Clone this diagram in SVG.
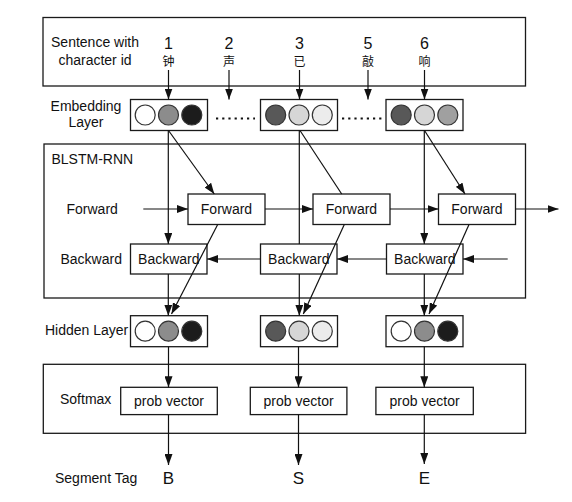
<svg xmlns="http://www.w3.org/2000/svg" width="572" height="502" viewBox="0 0 572 502">
<defs>
<marker id="ah" markerUnits="userSpaceOnUse" viewBox="0 0 11 8" refX="11" refY="4" markerWidth="11" markerHeight="8" orient="auto">
<path d="M0,0 L11,4 L0,8 z" fill="#111"/>
</marker>
<style>
text{font-family:"Liberation Sans",Arial,"Noto Sans CJK SC",sans-serif;fill:#111;font-size:14px}
.frame{fill:none;stroke:#1a1a1a;stroke-width:1.3}
.box{fill:#fff;stroke:#1a1a1a;stroke-width:1.3}
.mid{text-anchor:middle}
.num{font-size:16px;text-anchor:middle}
.cjk{font-family:"Noto Sans CJK SC","Liberation Sans",sans-serif;font-size:12px;text-anchor:middle}
.tag{font-size:17px;text-anchor:middle}
.c{stroke:#333;stroke-width:1.2}
.ln{fill:none;stroke:#111;stroke-width:1.2}
.arr{fill:none;stroke:#111;stroke-width:1.2;marker-end:url(#ah)}
.dots{fill:none;stroke:#111;stroke-width:2.2;stroke-dasharray:2.2 4}
</style>
</defs>

<g id="sentence">
<rect class="frame" x="43" y="17.5" width="482.5" height="68.5"/>
<text class="mid" x="95" y="47">Sentence with</text>
<text class="mid" x="95" y="65">character id</text>
<text class="num" x="168.5" y="49">1</text>
<text class="cjk" x="168.5" y="65.5">钟</text>
<text class="num" x="229" y="49">2</text>
<text class="cjk" x="229" y="65.5">声</text>
<text class="num" x="299.5" y="49">3</text>
<text class="cjk" x="299.5" y="65.5">已</text>
<text class="num" x="368" y="49">5</text>
<text class="cjk" x="368" y="65.5">敲</text>
<text class="num" x="424.5" y="49">6</text>
<text class="cjk" x="424.5" y="65.5">响</text>
</g>

<g id="embedding-label">
<text class="mid" x="86" y="111">Embedding</text>
<text class="mid" x="86" y="127">Layer</text>
</g>

<g id="emb1">
<rect class="box" x="130.5" y="99.5" width="77" height="31"/>
<circle class="c" cx="145.2" cy="115" r="10" fill="#ffffff"/>
<circle class="c" cx="168.5" cy="115" r="10" fill="#8c8c8c"/>
<circle class="c" cx="191.8" cy="115" r="10" fill="#1c1c1c"/>
</g>
<g id="emb2">
<rect class="box" x="260.5" y="99.5" width="77" height="31"/>
<circle class="c" cx="275.7" cy="115" r="10" fill="#585858"/>
<circle class="c" cx="299" cy="115" r="10" fill="#d6d6d6"/>
<circle class="c" cx="322.3" cy="115" r="10" fill="#ececec"/>
</g>
<g id="emb3">
<rect class="box" x="386" y="99.5" width="77" height="31"/>
<circle class="c" cx="401.2" cy="115" r="10" fill="#585858"/>
<circle class="c" cx="424.5" cy="115" r="10" fill="#d6d6d6"/>
<circle class="c" cx="447.8" cy="115" r="10" fill="#a0a0a0"/>
</g>

<g id="blstm">
<rect class="frame" x="44" y="144" width="481.5" height="154"/>
<text x="51.5" y="164">BLSTM-RNN</text>
<text x="66.5" y="214">Forward</text>
<text x="60.5" y="264">Backward</text>
</g>

<g id="fwd1"><rect class="box" x="188" y="194" width="77" height="30.5"/><text class="mid" x="226.5" y="214.3">Forward</text></g>
<g id="fwd2"><rect class="box" x="313" y="194" width="77" height="30.5"/><text class="mid" x="351.5" y="214.3">Forward</text></g>
<g id="fwd3"><rect class="box" x="438.5" y="194" width="77" height="30.5"/><text class="mid" x="477" y="214.3">Forward</text></g>

<g id="bwd1"><rect class="box" x="130.5" y="244" width="76.5" height="30"/><text class="mid" x="168.8" y="263.5">Backward</text></g>
<g id="bwd2"><rect class="box" x="260.5" y="244" width="76.5" height="30"/><text class="mid" x="298.8" y="263.5">Backward</text></g>
<g id="bwd3"><rect class="box" x="386.5" y="244" width="76.5" height="30"/><text class="mid" x="424.8" y="263.5">Backward</text></g>

<g id="hidden-label"><text x="45" y="334.5">Hidden Layer</text></g>
<g id="hid1">
<rect class="box" x="130.5" y="315.7" width="77" height="31"/>
<circle class="c" cx="145.2" cy="331.2" r="10" fill="#ffffff"/>
<circle class="c" cx="168.5" cy="331.2" r="10" fill="#8c8c8c"/>
<circle class="c" cx="191.8" cy="331.2" r="10" fill="#1c1c1c"/>
</g>
<g id="hid2">
<rect class="box" x="260.5" y="315.7" width="77" height="31"/>
<circle class="c" cx="275.7" cy="331.2" r="10" fill="#585858"/>
<circle class="c" cx="299" cy="331.2" r="10" fill="#d6d6d6"/>
<circle class="c" cx="322.3" cy="331.2" r="10" fill="#ececec"/>
</g>
<g id="hid3">
<rect class="box" x="386" y="315.7" width="77" height="31"/>
<circle class="c" cx="401.2" cy="331.2" r="10" fill="#ffffff"/>
<circle class="c" cx="424.5" cy="331.2" r="10" fill="#8c8c8c"/>
<circle class="c" cx="447.8" cy="331.2" r="10" fill="#1c1c1c"/>
</g>

<g id="softmax">
<rect class="frame" x="43.3" y="364.3" width="482.3" height="69"/>
<text x="60" y="404">Softmax</text>
</g>
<g id="prob1"><rect class="box" x="120.7" y="387.3" width="96.6" height="27.3"/><text class="mid" x="169" y="405.8">prob vector</text></g>
<g id="prob2"><rect class="box" x="250.3" y="387.3" width="96.6" height="27.3"/><text class="mid" x="298.6" y="405.8">prob vector</text></g>
<g id="prob3"><rect class="box" x="375.9" y="387.3" width="97.4" height="27.3"/><text class="mid" x="424.6" y="405.8">prob vector</text></g>

<g id="segment-tag">
<text x="55" y="483">Segment Tag</text>
<text class="tag" x="168.5" y="484">B</text>
<text class="tag" x="298.5" y="484">S</text>
<text class="tag" x="424.3" y="484">E</text>
</g>

<g id="connectors">
<line class="arr" x1="168.5" y1="70" x2="168.5" y2="99.5"/>
<line class="arr" x1="229" y1="70" x2="229" y2="99.5"/>
<line class="arr" x1="299.5" y1="70" x2="299.5" y2="99.5"/>
<line class="arr" x1="368" y1="70" x2="368" y2="99.5"/>
<line class="arr" x1="424.5" y1="70" x2="424.5" y2="99.5"/>
<line class="dots" x1="216" y1="118.5" x2="255" y2="118.5"/>
<line class="dots" x1="342" y1="118.5" x2="383" y2="118.5"/>
<line class="arr" x1="168.3" y1="130.5" x2="168.3" y2="244"/>
<line class="ln" x1="299.3" y1="130.5" x2="299.3" y2="244"/>
<line class="arr" x1="424.3" y1="130.5" x2="424.3" y2="244"/>
<line class="arr" x1="168.5" y1="130.5" x2="214.3" y2="194"/>
<line class="ln" x1="300" y1="130.5" x2="341.7" y2="194"/>
<line class="arr" x1="424.5" y1="130.5" x2="465" y2="194"/>
<line class="arr" x1="143.3" y1="209" x2="188" y2="209"/>
<line class="arr" x1="265" y1="209" x2="313" y2="209"/>
<line class="arr" x1="390" y1="209" x2="438.5" y2="209"/>
<line class="arr" x1="515.5" y1="209" x2="558.5" y2="209"/>
<line class="arr" x1="507.7" y1="259" x2="463" y2="259"/>
<line class="arr" x1="386.5" y1="259" x2="337" y2="259"/>
<line class="arr" x1="260.5" y1="259" x2="207" y2="259"/>
<line class="arr" x1="168.3" y1="274" x2="168.3" y2="315.7"/>
<line class="arr" x1="299.3" y1="274" x2="299.3" y2="315.7"/>
<line class="arr" x1="424.3" y1="274" x2="424.3" y2="315.7"/>
<line class="arr" x1="217.7" y1="224.5" x2="171.5" y2="314"/>
<line class="arr" x1="344.3" y1="224.5" x2="303.3" y2="314"/>
<line class="arr" x1="469" y1="224.5" x2="429" y2="314"/>
<line class="arr" x1="168.5" y1="346.7" x2="168.5" y2="387.3"/>
<line class="arr" x1="298.5" y1="346.7" x2="298.5" y2="387.3"/>
<line class="arr" x1="424.3" y1="346.7" x2="424.3" y2="387.3"/>
<line class="arr" x1="168.5" y1="414.6" x2="168.5" y2="465"/>
<line class="arr" x1="298.5" y1="414.6" x2="298.5" y2="465"/>
<line class="arr" x1="424.3" y1="414.6" x2="424.3" y2="464"/>
</g>
</svg>
